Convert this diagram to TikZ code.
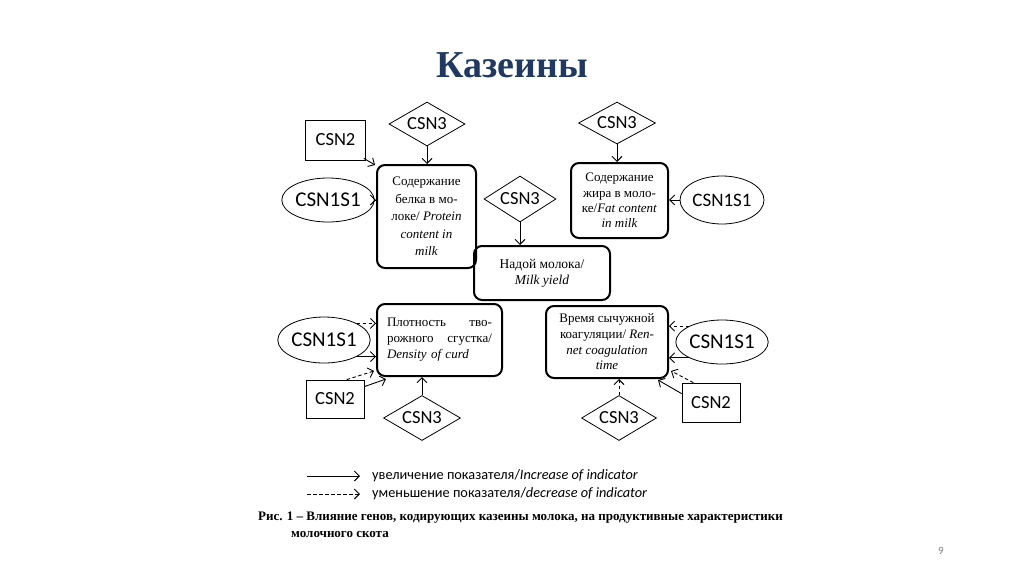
\documentclass[tikz,border=0pt]{standalone}
\usepackage{fontspec}
\setmainfont{Liberation Serif}
\newfontfamily\csnfont{Carlito}
\usetikzlibrary{shapes.geometric,arrows.meta,calc}
\definecolor{navy}{HTML}{1F3864}
\begin{document}
\begin{tikzpicture}[x=1pt,y=-1pt,
  gene/.style={draw,line width=0.8pt,inner sep=0pt,font=\csnfont\fontsize{18.5}{20}\selectfont},
  generect/.style={gene,rectangle},
  genedia/.style={gene,diamond,aspect=1.7},
  geneell/.style={gene,ellipse,font=\csnfont\fontsize{21}{22}\selectfont},
  trait/.style={draw,line width=2pt,rounded corners=8pt,inner sep=0pt,align=center},
  inc/.style={line width=0.9pt,-{Straight Barb[length=5pt,width=10pt,line width=0.9pt]}},
  dec/.style={inc,dash pattern=on 3.5pt off 2.5pt}
]
\useasboundingbox (0,0) rectangle (1024,574);
\fill[white] (0,0) rectangle (1024,574);

% title
\node[anchor=base,font=\bfseries\fontsize{38}{40}\selectfont,text=navy] (title) at (512,77) {Казеины};

% top-left group
\node[generect,minimum width=60pt,minimum height=40pt] (csn2a) at (335.5,140) {CSN2};
\node[genedia,minimum width=76pt,minimum height=44pt] (csn3a) at (427,124) {CSN3};
\node[geneell,minimum width=90pt,minimum height=44pt] (csn1a) at (328,200) {CSN1S1};
\node[trait,minimum width=99pt,minimum height=103pt,font=\fontsize{13}{17.5}\selectfont] (prot) at (426.5,216.5)
  {Содержание\\белка в мо-\\локе/ \textit{Protein}\\\textit{content in}\\\textit{milk}};

% middle
\node[genedia,minimum width=72pt,minimum height=46pt] (csn3m) at (520,199) {CSN3};
\node[trait,minimum width=136pt,minimum height=54pt,font=\fontsize{13.5}{16}\selectfont] (milk) at (542,273)
  {Надой молока/\\\textit{Milk yield}};

% top-right
\node[genedia,minimum width=77pt,minimum height=42pt] (csn3b) at (617,123) {CSN3};
\node[trait,minimum width=97pt,minimum height=75pt,font=\fontsize{13}{15.3}\selectfont] (fat) at (619.5,200.5)
  {Содержание\\жира в моло-\\ке/\textit{Fat content}\\\textit{in milk}};
\node[geneell,minimum width=84pt,minimum height=48pt,font=\csnfont\fontsize{19}{20}\selectfont] (csn1b) at (722,200) {CSN1S1};

% bottom-left
\node[trait,minimum width=125pt,minimum height=72pt,font=\fontsize{13}{16}\selectfont,text width=105pt,align=left] (dens) at (439.5,340)
  {Плотность\hfill тво-\\рожного\hfill сгустка/\\\textit{Density of curd}\\[3pt]};
\node[geneell,minimum width=84pt,minimum height=46pt] (csn1c) at (324,340) {CSN1S1};
\node[generect,minimum width=58pt,minimum height=38pt] (csn2c) at (335,399) {CSN2};
\node[genedia,minimum width=77pt,minimum height=45pt] (csn3c) at (422,418) {CSN3};

% bottom-right
\node[trait,minimum width=122pt,minimum height=72pt,font=\fontsize{13}{15.7}\selectfont] (ren) at (607,342)
  {Время сычужной\\коагуляции/ \textit{Ren-}\\\textit{net coagulation}\\\textit{time}};
\node[geneell,minimum width=82pt,minimum height=44pt] (csn1d) at (722,342) {CSN1S1};
\node[generect,minimum width=58pt,minimum height=39pt] (csn2d) at (711,402.5) {CSN2};
\node[genedia,minimum width=75pt,minimum height=45pt] (csn3d) at (619,418) {CSN3};

% arrows top-left
\draw[inc] (csn3a.south) -- (csn3a.south |- prot.north);
\draw[inc] ($(csn2a.south east)+(-2,-2)$) -- ($(prot.north west)+(-1,1)$);
\draw[inc] (csn1a.east) -- (csn1a.east -| prot.west);
% middle
\draw[inc] (csn3m.south) -- (csn3m.south |- milk.north);
% top-right
\draw[inc] (csn3b.south) -- (csn3b.south |- fat.north);
\draw[inc] (csn1b.west) -- (csn1b.west -| fat.east);
% bottom-left
\draw[dec] (csn1c.north east) -- (csn1c.north east -| dens.west);
\draw[inc] (csn1c.south east) -- (csn1c.south east -| dens.west);
\draw[dec] ($(csn2c.north)!0.4!(csn2c.north east)$) -- ($(dens.south west)+(-2,-6)$);
\draw[inc] ($(csn2c.north east)+(0,7)$) -- ($(dens.south west)+(10,2)$);
\draw[inc] (csn3c.north) -- (csn3c.north |- dens.south);
% bottom-right
\draw[dec] (csn1d.north west) -- (csn1d.north west -| ren.east);
\draw[inc] (csn1d.south west) -- (csn1d.south west -| ren.east);
\draw[dec] ($(csn2d.north west)!0.2!(csn2d.north east)$) -- ($(ren.south east)+(2,-8)$);
\draw[inc] ($(csn2d.north west)+(0,11)$) -- ($(ren.south east)+(-11,1)$);
\draw[dec] (csn3d.north) -- (csn3d.north |- ren.south);

% legend
\coordinate (l1a) at (307,476);
\coordinate (l1b) at (360,476);
\coordinate (l2a) at (307,494);
\coordinate (l2b) at (360,494);
\draw[inc] (l1a) -- (l1b);
\draw[dec] (l2a) -- (l2b);
\node[anchor=west,inner sep=0pt,font=\csnfont\fontsize{14.3}{16}\selectfont] (leg1) at (372,476) {увеличение показателя/\textit{Increase of indicator}};
\node[anchor=west,inner sep=0pt,font=\csnfont\fontsize{14.3}{16}\selectfont] (leg2) at (372,494) {уменьшение показателя/\textit{decrease of indicator}};

% caption
\node[anchor=west,inner sep=0pt,font=\bfseries\fontsize{13}{15}\selectfont] (cap1) at (258,518) {Рис. 1 – Влияние генов, кодирующих казеины молока, на продуктивные характеристики};
\node[anchor=west,inner sep=0pt,font=\bfseries\fontsize{13}{15}\selectfont] (cap2) at (291,534) {молочного скота};

% page number
\node[font=\csnfont\fontsize{11}{12}\selectfont,text=gray] (pg) at (941,551) {9};
\end{tikzpicture}
\end{document}
